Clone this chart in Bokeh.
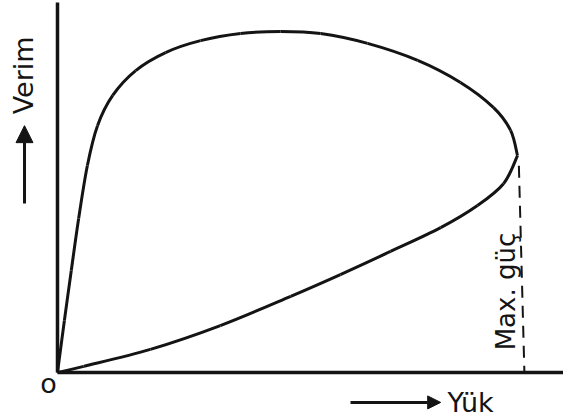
from bokeh.plotting import figure
from bokeh.models import Range1d, Arrow, NormalHead
from bokeh.core.properties import value
from bokeh.embed import file_html
from bokeh.resources import INLINE

# Efficiency loop (Verim) against load (Yük); load 100 = maximum power point
upper_load = [0.0, 1.5, 3.0, 4.6, 6.5, 8.7, 12.0, 17.0, 23.5, 31.1, 39.8, 48.5,
              57.2, 67.4, 78.3, 87.6, 94.8, 98.5, 100.0]
upper_eff = [0.0, 15.3, 30.0, 45.3, 60.9, 72.6, 81.5, 88.8, 94.1, 97.6, 99.7, 100.3,
             99.7, 96.8, 91.8, 85.3, 77.9, 71.2, 63.8]

lower_load = [100.0, 97.0, 91.3, 83.3, 72.4, 61.5, 50.7, 35.4, 20.2, 5.7, 0.0]
lower_eff = [63.8, 55.6, 49.1, 42.6, 35.6, 28.8, 22.4, 13.8, 6.8, 1.8, 0.0]

max_power_load = 100.0
y_label = "Verim"
x_label = "Yük"
max_label = "Max. güç"
origin_label = "o"

INK = "#141414"


def smooth_segments(xs, ys):
    """Catmull-Rom through the points, returned as cubic Bezier pieces."""
    n = len(xs)
    out = {k: [] for k in ("x0", "y0", "x1", "y1", "cx0", "cy0", "cx1", "cy1")}
    for i in range(n - 1):
        a = max(i - 1, 0)
        d = min(i + 2, n - 1)
        out["x0"].append(xs[i]); out["y0"].append(ys[i])
        out["x1"].append(xs[i + 1]); out["y1"].append(ys[i + 1])
        out["cx0"].append(xs[i] + (xs[i + 1] - xs[a]) / 6.0)
        out["cy0"].append(ys[i] + (ys[i + 1] - ys[a]) / 6.0)
        out["cx1"].append(xs[i + 1] - (xs[d] - xs[i]) / 6.0)
        out["cy1"].append(ys[i + 1] - (ys[d] - ys[i]) / 6.0)
    return out


p = figure(width=563, height=420, output_backend="svg", toolbar_location=None,
           x_axis_type=None, y_axis_type=None, min_border=0,
           x_range=Range1d(-12.39, 110.0), y_range=Range1d(-14.12, 109.41))
p.outline_line_color = None
p.grid.visible = False
p.background_fill_color = "white"
p.border_fill_color = "white"

# hand-drawn axes
p.segment(x0=[0, 0], y0=[0, 0], x1=[0, 110], y1=[108.8, 0],
          line_color=INK, line_width=3.5)

# efficiency loop
for xs, ys in ((upper_load, upper_eff), (lower_load, lower_eff)):
    seg = smooth_segments(xs, ys)
    p.bezier(x0=seg["x0"], y0=seg["y0"], x1=seg["x1"], y1=seg["y1"],
             cx0=seg["cx0"], cy0=seg["cy0"], cx1=seg["cx1"], cy1=seg["cy1"],
             line_color=INK, line_width=3)

# maximum power marker
nose_eff = upper_eff[-1]
p.segment(x0=[max_power_load + 0.3], y0=[nose_eff - 3], x1=[max_power_load + 1.5], y1=[0],
          line_color=INK, line_width=2, line_dash="12 8")
p.text(x=[97.4], y=[23.8], text=[max_label], angle=1.5708,
       text_font=value("DejaVu Sans"), text_font_size="26px",
       text_align="center", text_baseline="middle", text_color=INK)

# axis captions with arrows
p.text(x=[-7.4], y=[87.4], text=[y_label], angle=1.5708,
       text_font=value("DejaVu Sans"), text_font_size="27px",
       text_align="center", text_baseline="middle", text_color=INK)
p.add_layout(Arrow(end=NormalHead(size=17, fill_color=INK, line_color=INK),
                   x_start=-7.17, y_start=49.7, x_end=-7.17, y_end=72.6,
                   line_color=INK, line_width=3))

p.text(x=[84.8], y=[-8.8], text=[x_label],
       text_font=value("DejaVu Sans"), text_font_size="27px",
       text_align="left", text_baseline="middle", text_color=INK)
p.add_layout(Arrow(end=NormalHead(size=13, fill_color=INK, line_color=INK),
                   x_start=63.7, y_start=-8.8, x_end=83.3, y_end=-8.8,
                   line_color=INK, line_width=3))

p.text(x=[-1.96], y=[-3.2], text=[origin_label],
       text_font=value("DejaVu Sans"), text_font_size="27px",
       text_align="center", text_baseline="middle", text_color=INK)

open("out.html", "w").write(file_html(p, INLINE))
